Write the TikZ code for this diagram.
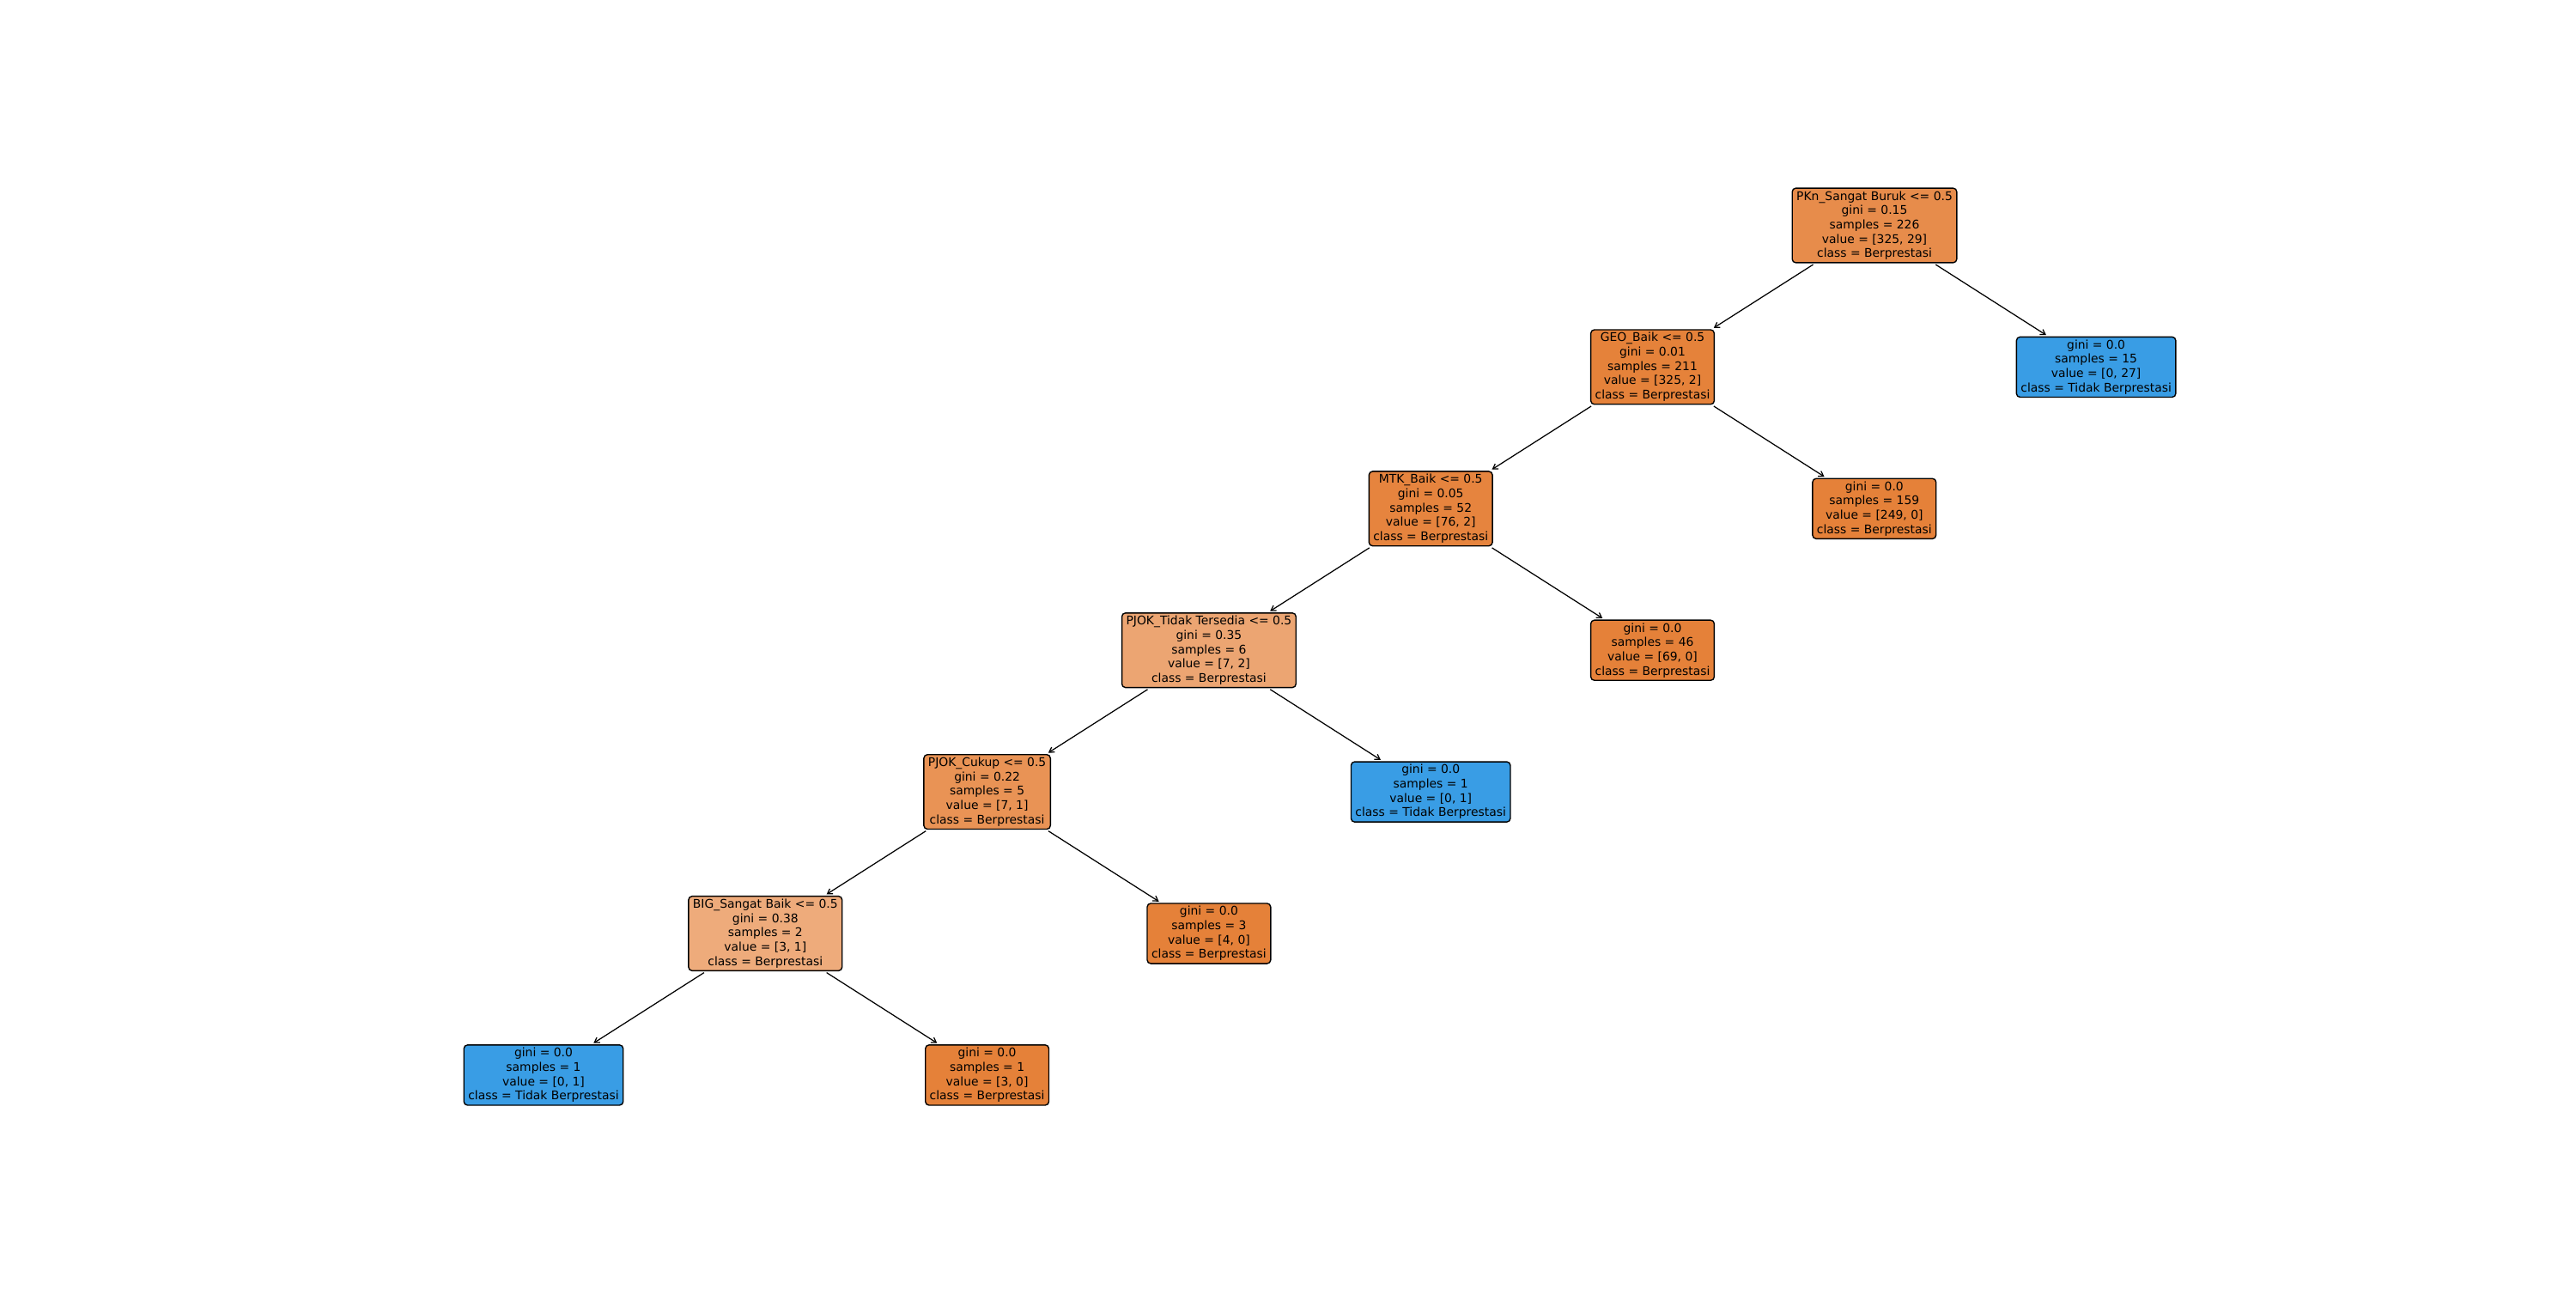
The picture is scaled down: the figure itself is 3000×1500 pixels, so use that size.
\documentclass[tikz,border=0pt]{standalone}
\usepackage{fontspec}
\setmainfont{DejaVu Sans}
\usetikzlibrary{arrows.meta}

% node fill colours (class colour blended with white by purity)
\definecolor{clsA}{RGB}{229,129,57}
\definecolor{clsB}{RGB}{57,157,229}
\definecolor{fRoot}{RGB}{231,140,75}
\definecolor{fGeo}{RGB}{229,130,58}
\definecolor{fMtk}{RGB}{230,132,62}
\definecolor{fPjokTT}{RGB}{236,165,114}
\definecolor{fPjokC}{RGB}{233,147,85}
\definecolor{fBig}{RGB}{238,171,123}

\tikzset{
  treenode/.style={draw=black, line width=1pt, rounded corners=3pt,
    align=center, inner xsep=3.6pt, inner ysep=2.4pt,
    font=\fontsize{10}{12}\selectfont},
  edge/.style={line width=0.9pt, shorten >=2pt, shorten <=2pt,
    -{Straight Barb[length=4pt,width=5pt,line width=0.9pt]}}
}

\begin{document}
\begin{tikzpicture}[x=0.72pt, y=-0.72pt]
  \path[fill=white] (0,0) rectangle (3000,1500);
  \useasboundingbox (0,0) rectangle (3000,1500);

  % grid: column c at x = 633 + 258.3 c, level l at y = 262.5 + 164.9 l
  \node[treenode, fill=fRoot] (root) at (2183,262.5)
    {PKn\_Sangat Buruk <= 0.5\\gini = 0.15\\samples = 226\\value = [325, 29]\\class = Berprestasi};
  \node[treenode, fill=fGeo] (geo) at (1924.5,427.4)
    {GEO\_Baik <= 0.5\\gini = 0.01\\samples = 211\\value = [325, 2]\\class = Berprestasi};
  \node[treenode, fill=clsB] (tb15) at (2441.1,427.4)
    {gini = 0.0\\samples = 15\\value = [0, 27]\\class = Tidak Berprestasi};
  \node[treenode, fill=fMtk] (mtk) at (1666.2,592.3)
    {MTK\_Baik <= 0.5\\gini = 0.05\\samples = 52\\value = [76, 2]\\class = Berprestasi};
  \node[treenode, fill=clsA] (b159) at (2182.8,592.3)
    {gini = 0.0\\samples = 159\\value = [249, 0]\\class = Berprestasi};
  \node[treenode, fill=fPjokTT] (pjoktt) at (1407.9,757.2)
    {PJOK\_Tidak Tersedia <= 0.5\\gini = 0.35\\samples = 6\\value = [7, 2]\\class = Berprestasi};
  \node[treenode, fill=clsA] (b46) at (1924.5,757.2)
    {gini = 0.0\\samples = 46\\value = [69, 0]\\class = Berprestasi};
  \node[treenode, fill=fPjokC] (pjokc) at (1149.6,922.1)
    {PJOK\_Cukup <= 0.5\\gini = 0.22\\samples = 5\\value = [7, 1]\\class = Berprestasi};
  \node[treenode, fill=clsB] (tb1) at (1666.2,922.1)
    {gini = 0.0\\samples = 1\\value = [0, 1]\\class = Tidak Berprestasi};
  \node[treenode, fill=fBig] (big) at (891.3,1087)
    {BIG\_Sangat Baik <= 0.5\\gini = 0.38\\samples = 2\\value = [3, 1]\\class = Berprestasi};
  \node[treenode, fill=clsA] (b3) at (1407.9,1087)
    {gini = 0.0\\samples = 3\\value = [4, 0]\\class = Berprestasi};
  \node[treenode, fill=clsB] (tbleaf) at (633,1251.9)
    {gini = 0.0\\samples = 1\\value = [0, 1]\\class = Tidak Berprestasi};
  \node[treenode, fill=clsA] (b30) at (1149.6,1251.9)
    {gini = 0.0\\samples = 1\\value = [3, 0]\\class = Berprestasi};

  % parent-to-child connectors
  \draw[edge] (root) -- (geo);
  \draw[edge] (root) -- (tb15);
  \draw[edge] (geo) -- (mtk);
  \draw[edge] (geo) -- (b159);
  \draw[edge] (mtk) -- (pjoktt);
  \draw[edge] (mtk) -- (b46);
  \draw[edge] (pjoktt) -- (pjokc);
  \draw[edge] (pjoktt) -- (tb1);
  \draw[edge] (pjokc) -- (big);
  \draw[edge] (pjokc) -- (b3);
  \draw[edge] (big) -- (tbleaf);
  \draw[edge] (big) -- (b30);
\end{tikzpicture}
\end{document}
